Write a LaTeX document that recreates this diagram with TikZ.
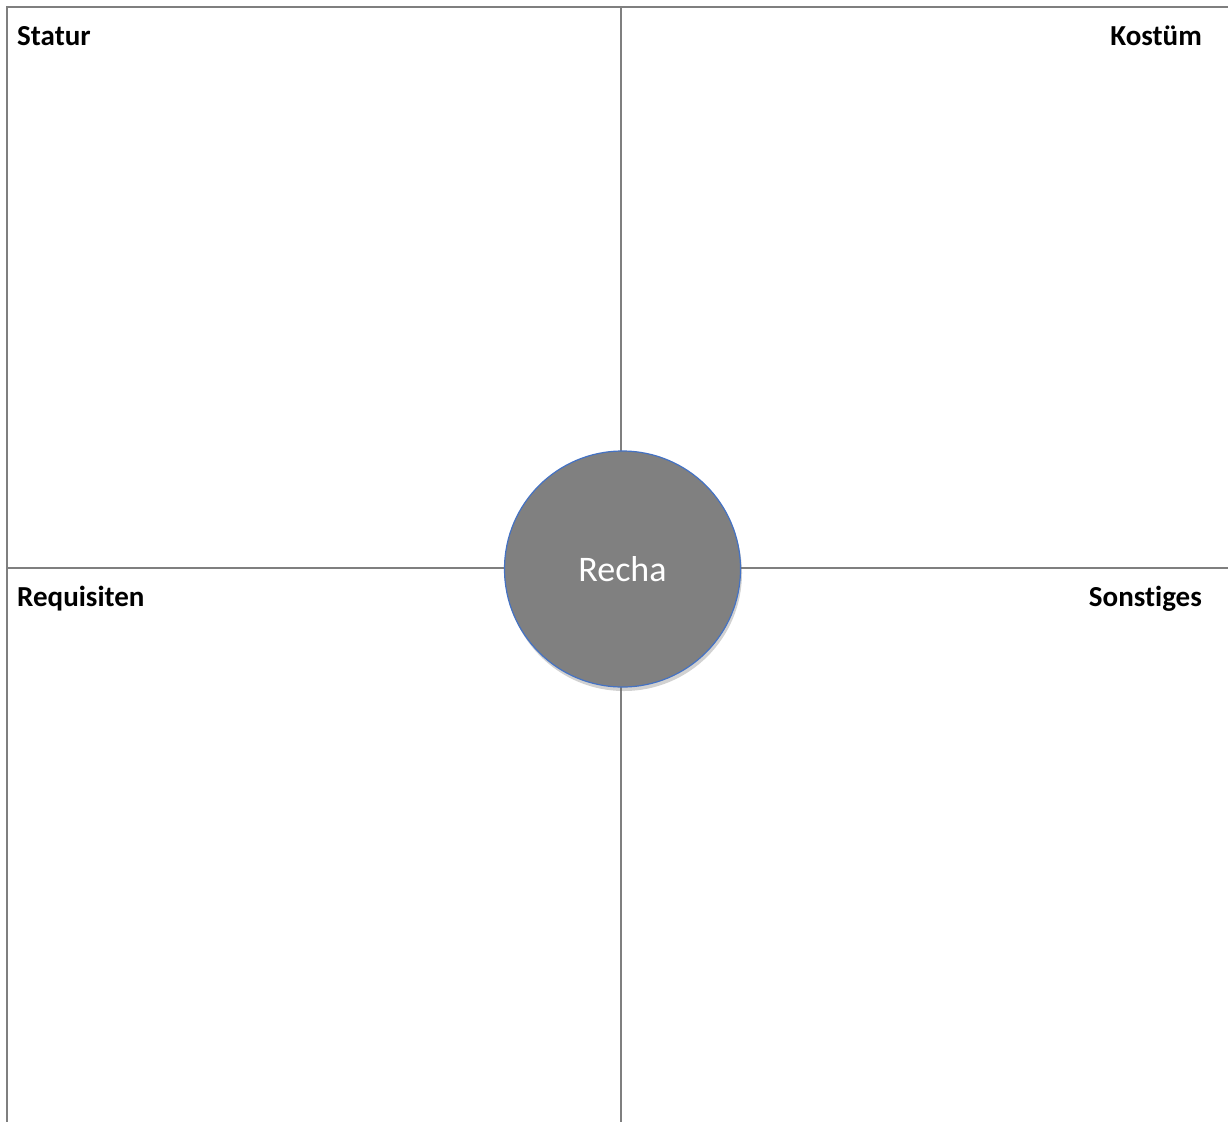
\documentclass[tikz,border=0pt]{standalone}
\usepackage{fontspec}
\setmainfont[Ligatures={NoCommon}]{Carlito}
\usetikzlibrary{shadows}
\definecolor{linegray}{HTML}{7F7F7F}
\definecolor{circfill}{HTML}{808080}
\definecolor{circborder}{HTML}{4472C4}
\tikzset{
  gridline/.style={draw=linegray, line width=2pt},
  label/.style={font=\fontsize{29}{34}\selectfont\bfseries, inner sep=0pt, text=black},
  center/.style={circle, minimum size=236pt, inner sep=0pt, fill=circfill, draw=circborder, line width=1.2pt,
    drop shadow={opacity=0.3, fill=black!60, shadow xshift=1.5pt, shadow yshift=-4pt},
    font=\fontsize{36}{42}\selectfont, text=white}
}
\begin{document}
\begin{tikzpicture}[x=1pt,y=-1pt]
\useasboundingbox (0,0) rectangle (1228,1122);
\coordinate (tl) at (6,7);
\coordinate (tr) at (1228,7);
\coordinate (lt) at (7,7);
\coordinate (bl) at (7,1122);
\coordinate (ml) at (6,568);
\coordinate (mr) at (1228,568);
\coordinate (tc) at (621,7);
\coordinate (bc) at (621,1122);
\draw[gridline] (tl) -- (tr);
\draw[gridline] (lt) -- (bl);
\draw[gridline] (ml) -- (mr);
\draw[gridline] (tc) -- (bc);
\node[center] (recha) at (622.5,569) {Recha};
\node[label, anchor=base west] (statur) at (17,45) {Statur};
\node[label, anchor=base east] (kostuem) at (1202,45) {Kostüm};
\node[label, anchor=base west] (requisiten) at (17,606) {Requisiten};
\node[label, anchor=base east] (sonstiges) at (1202,606) {Sonstiges};
\end{tikzpicture}
\end{document}
